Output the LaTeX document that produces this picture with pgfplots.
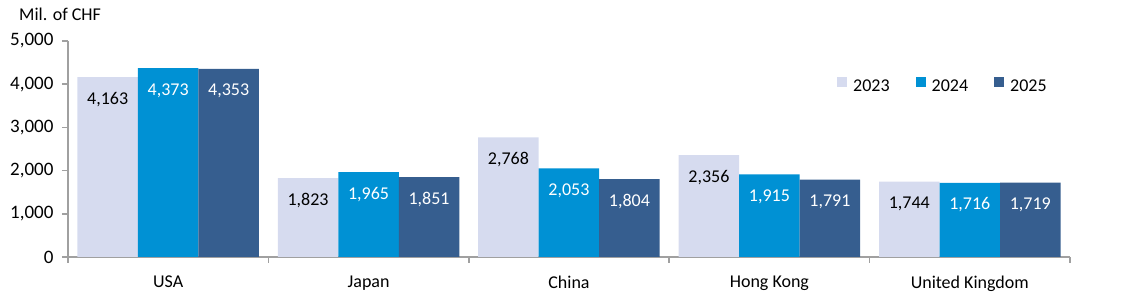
\documentclass[border=0pt]{standalone}
\usepackage{fontspec}
\setmainfont{Carlito}
\usepackage{pgfplots}
\pgfplotsset{compat=1.18}
\definecolor{cA}{RGB}{214,219,239}
\definecolor{cB}{RGB}{0,145,212}
\definecolor{cC}{RGB}{54,94,143}
\definecolor{axgray}{RGB}{160,160,160}
\newcommand{\ff}{\fontsize{18}{21}\selectfont}
\newcommand{\ft}{\fontsize{19}{22}\selectfont}
\begin{document}
\begin{tikzpicture}[font=\ff]
\path[use as bounding box] (0,0) rectangle (1125pt,300pt);
\node[anchor=base west, inner sep=0pt] at (19pt,279pt) {Mil. of CHF};
\begin{axis}[
  at={(68pt,43pt)}, anchor=south west,
  scale only axis, width=1002pt, height=216pt,
  xmin=-0.5, xmax=4.5, ymin=0, ymax=5000,
  ybar=0pt, bar width=60.5pt,
  axis x line*=bottom, axis y line*=left,
  axis line style={draw=axgray, line width=1.5pt, -},
  tick align=outside, major tick length=6pt,
  ytick={0,1000,...,5000},
  y tick style={draw=axgray, line width=1.5pt},
  yticklabel style={font=\ft, xshift=-5pt},
  xtick={0,...,4},
  xticklabels={USA, Japan, China, Hong Kong, United Kingdom},
  xticklabel style={font=\ff, yshift=-9pt},
  x tick style={draw=none},
  extra x ticks={-0.5,0.5,1.5,2.5,3.5,4.5},
  extra x tick labels={,,,,,},
  extra x tick style={x tick style={draw=axgray, line width=1.5pt}},
  /pgf/number format/.cd, 1000 sep={,}, fixed, assume math mode=true, /pgfplots/.cd,
  nodes near coords,
  every node near coord/.append style={anchor=base, yshift=-27pt, font=\ff},
  legend columns=3,
  legend style={at={(0.7675,0.796)}, anchor=west, draw=none, fill=none, inner sep=0pt,
    /tikz/every odd column/.append style={column sep=6pt},
    /tikz/every even column/.append style={column sep=26pt},
    nodes={inner sep=0pt, font=\ff}},
  legend image code/.code={\fill[#1] (0pt,0pt) rectangle (10pt,10pt);},
]
\addplot[fill=cA, draw=none, every node near coord/.append style={text=black}]
  coordinates {(0,4163) (1,1823) (2,2768) (3,2356) (4,1744)};
\addplot[fill=cB, draw=none, every node near coord/.append style={text=white}]
  coordinates {(0,4373) (1,1965) (2,2053) (3,1915) (4,1716)};
\addplot[fill=cC, draw=none, every node near coord/.append style={text=white}]
  coordinates {(0,4353) (1,1851) (2,1804) (3,1791) (4,1719)};
\legend{2023,2024,2025}
\end{axis}
\end{tikzpicture}
\end{document}
